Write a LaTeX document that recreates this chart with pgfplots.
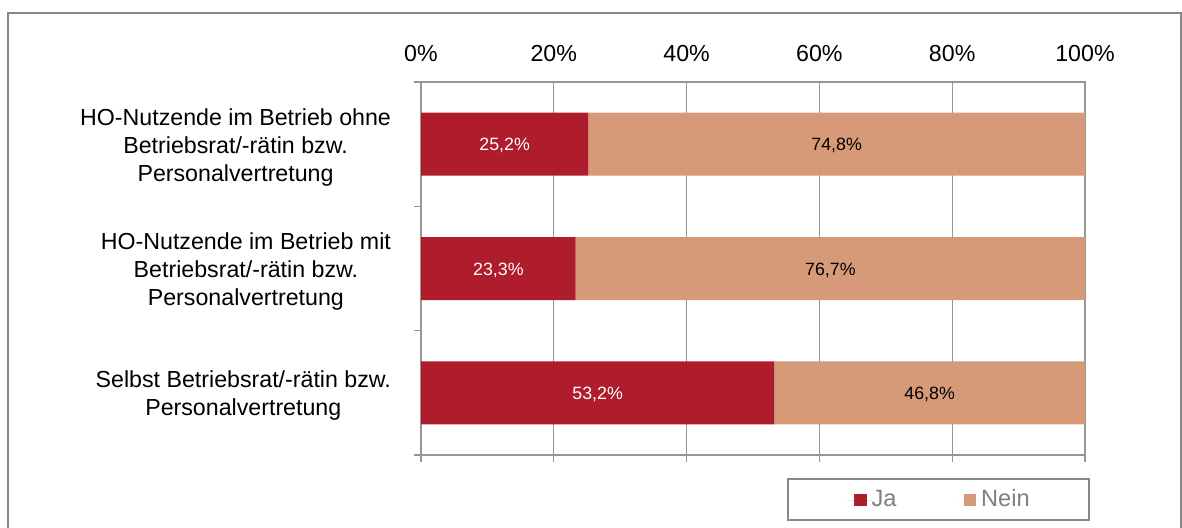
\documentclass[border=0pt]{standalone}
\usepackage{pgfplots}
\pgfplotsset{compat=1.18}
\usepackage{fontspec}
\setmainfont{Liberation Sans}
\definecolor{ja}{RGB}{175,29,45}
\definecolor{nein}{RGB}{214,154,121}
\definecolor{framec}{RGB}{135,135,135}
\definecolor{gridc}{RGB}{150,150,150}
\pgfplotsset{
  chartgeom/.style={
    at={(210.5pt,-41pt)}, anchor=north west,
    scale only axis, width=332pt, height=186.5pt,
    xmin=0, xmax=100, ymin=-0.5, ymax=2.5, y dir=reverse,
    enlargelimits=false,
  }
}
\begin{document}
\begin{tikzpicture}
\useasboundingbox (0,0) rectangle (591pt,-263.5pt);
\draw[framec, line width=1pt] (4pt,-280pt) -- (4pt,-6.5pt) -- (590.5pt,-6.5pt) -- (590.5pt,-280pt);
\begin{axis}[
  chartgeom,
  xbar stacked, bar width=31.5pt,
  xtick={0,20,40,60,80,100},
  xticklabels={0\%,20\%,40\%,60\%,80\%,100\%},
  xtick pos=bottom, xticklabel pos=top,
  ytick={-0.5,0.5,1.5,2.5}, ytick pos=left,
  yticklabels={{HO-Nutzende im Betrieb ohne\\Betriebsrat/-rätin bzw.\\Personalvertretung},
               {HO-Nutzende im Betrieb mit\\Betriebsrat/-rätin bzw.\\Personalvertretung},
               {Selbst Betriebsrat/-rätin bzw.\\Personalvertretung}},
  y tick label as interval,
  tick align=outside, major tick length=3.5pt,
  xmajorgrids, ymajorgrids=false,
  grid style={gridc, line width=0.6pt},
  axis line style={gridc, line width=0.8pt},
  tick style={gridc, line width=0.6pt},
  xticklabel style={font=\fontsize{11.6}{13}\selectfont, yshift=3pt},
  yticklabel style={font=\fontsize{11.6}{14}\selectfont, align=center, xshift=-8pt, yshift=-1.5pt},
  legend style={at={(0.551,-0.0617)}, anchor=north west, draw=framec, line width=1.2pt,
    legend columns=2, font=\fontsize{11.8}{13}\selectfont, text=black!50,
    inner xsep=29.5pt, inner ysep=3.2pt,
    nodes={inner xsep=0pt},
    /tikz/every even column/.append style={column sep=30pt}},
  legend image code/.code={%
    \path (-3.5pt,0pt) rectangle (8.8pt,0pt);
    \fill[#1, draw=none] (0pt,-3.4pt) rectangle (6.3pt,2.9pt);},
]
\addplot[fill=ja, draw=none] coordinates {(25.2,0) (23.3,1) (53.2,2)};
\addlegendentry{Ja}
\addplot[fill=nein, draw=none] coordinates {(74.8,0) (76.7,1) (46.8,2)};
\addlegendentry{Nein}
\end{axis}
\begin{axis}[chartgeom, hide axis]
\addplot[only marks, mark=none, nodes near coords, point meta=explicit symbolic,
  every node near coord/.style={anchor=center, yshift=-0.8pt, text=white, font=\fontsize{8.9}{11}\selectfont}]
  coordinates {(12.6,0) [25{,}2\%] (11.65,1) [23{,}3\%] (26.6,2) [53{,}2\%]};
\addplot[only marks, mark=none, nodes near coords, point meta=explicit symbolic,
  every node near coord/.style={anchor=center, yshift=-0.8pt, text=black, font=\fontsize{8.9}{11}\selectfont}]
  coordinates {(62.6,0) [74{,}8\%] (61.65,1) [76{,}7\%] (76.6,2) [46{,}8\%]};
\end{axis}
\end{tikzpicture}
\end{document}
